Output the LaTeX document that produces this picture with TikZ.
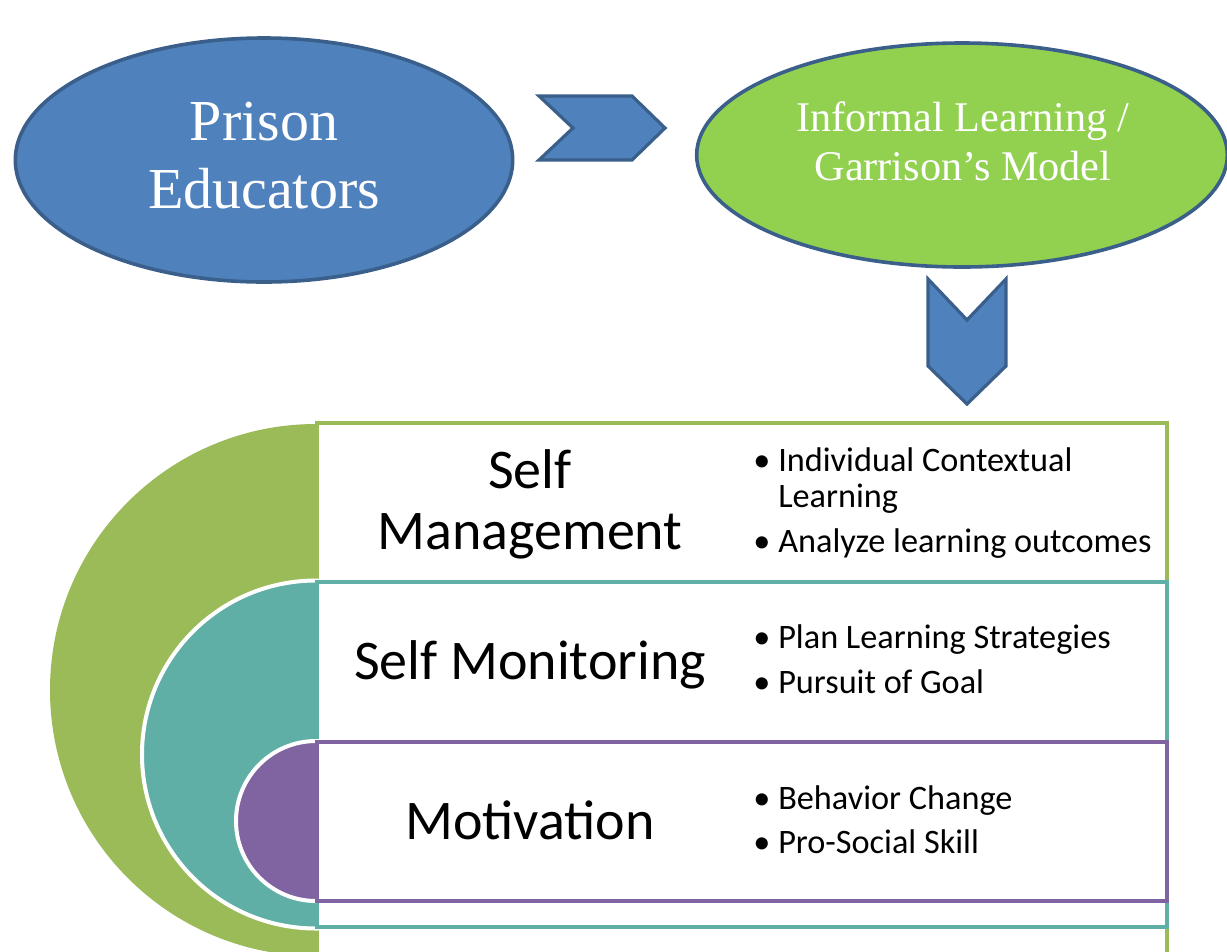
\documentclass[tikz,border=0pt]{standalone}
\usepackage{fontspec}
\setmainfont{Liberation Serif}
\newfontfamily\carl{Carlito}
\usetikzlibrary{shapes.geometric}
\definecolor{eblue}{HTML}{4F81BD}
\definecolor{eborder}{HTML}{3A5F8B}
\definecolor{lgreen}{HTML}{92D050}
\definecolor{ogreen}{HTML}{9BBB59}
\definecolor{mteal}{HTML}{5FAFA6}
\definecolor{mpurple}{HTML}{8064A2}
\begin{document}
\begin{tikzpicture}[x=0.75pt,y=-0.75pt,
  oval/.style={ellipse, draw=eborder, line width=2.7pt, inner sep=0pt},
  chev/.style={fill=eblue, draw=eborder, line width=2.4pt, line join=miter},
  ovaltxt/.style={text=white, anchor=base, inner sep=0pt},
  headtxt/.style={font=\carl\fontsize{42}{50}\selectfont, anchor=base, inner sep=0pt},
  bul/.style={font=\carl\fontsize{25.7}{30}\selectfont, anchor=base west, inner sep=0pt},
  boxframe/.style={fill=white, line width=3pt},
  half/.style={draw=white, line width=3pt}]
\useasboundingbox (0,0) rectangle (1227,951);
\clip (0,0) rectangle (1227,951);

% top ellipses
\node[oval, fill=eblue, minimum width=373pt, minimum height=183pt] (pe) at (264,160) {};
\node[ovaltxt, font=\fontsize{43.5}{51}\selectfont] (pe1) at (264,140) {Prison};
\node[ovaltxt, font=\fontsize{43.5}{51}\selectfont] (pe2) at (264,208) {Educators};

\node[oval, fill=lgreen, minimum width=398pt, minimum height=168pt] (il) at (962,155) {};
\node[ovaltxt, font=\fontsize{31.7}{36}\selectfont] (il1) at (963,131) {Informal Learning /};
\node[ovaltxt, font=\fontsize{31.7}{36}\selectfont] (il2) at (963,180) {Garrison’s Model};

% chevrons
\draw[chev] (539,96) -- (632,96) -- (665,128) -- (632,160) -- (539,160) -- (573,128) -- cycle;
\draw[chev] (928,279) -- (967,320) -- (1006,279) -- (1006,366) -- (967,404) -- (928,366) -- cycle;

% green level
\fill[ogreen] (316,690) circle[radius=266];
\draw[boxframe, draw=ogreen] (317,423) rectangle (1167,990);
% teal level
\fill[mteal, half] (316,754.5) circle[radius=174];
\draw[boxframe, draw=mteal] (317,582) rectangle (1167,927);
% purple level
\fill[mpurple, half] (316,821) circle[radius=80];
\draw[boxframe, draw=mpurple] (317,742) rectangle (1167,901);

% headings
\node[headtxt] (h1a) at (530,488) {Self};
\node[headtxt] (h1b) at (530,549) {Management};
\node[headtxt] (h2) at (530,679) {Self Monitoring};
\node[headtxt] (h3) at (530,839) {Motivation};

% bullets
\node[bul] (b1d) at (753,471) {•};
\node[bul] (b1) at (778,471) {Individual Contextual};
\node[bul] (b1c) at (778,507) {Learning};
\node[bul] (b2d) at (753,552) {•};
\node[bul] (b2) at (778,552) {Analyze learning outcomes};
\node[bul] (b3d) at (753,648) {•};
\node[bul] (b3) at (778,648) {Plan Learning Strategies};
\node[bul] (b4d) at (753,693) {•};
\node[bul] (b4) at (778,693) {Pursuit of Goal};
\node[bul] (b5d) at (753,809) {•};
\node[bul] (b5) at (778,809) {Behavior Change};
\node[bul] (b6d) at (753,853) {•};
\node[bul] (b6) at (778,853) {Pro-Social Skill};
\end{tikzpicture}
\end{document}
